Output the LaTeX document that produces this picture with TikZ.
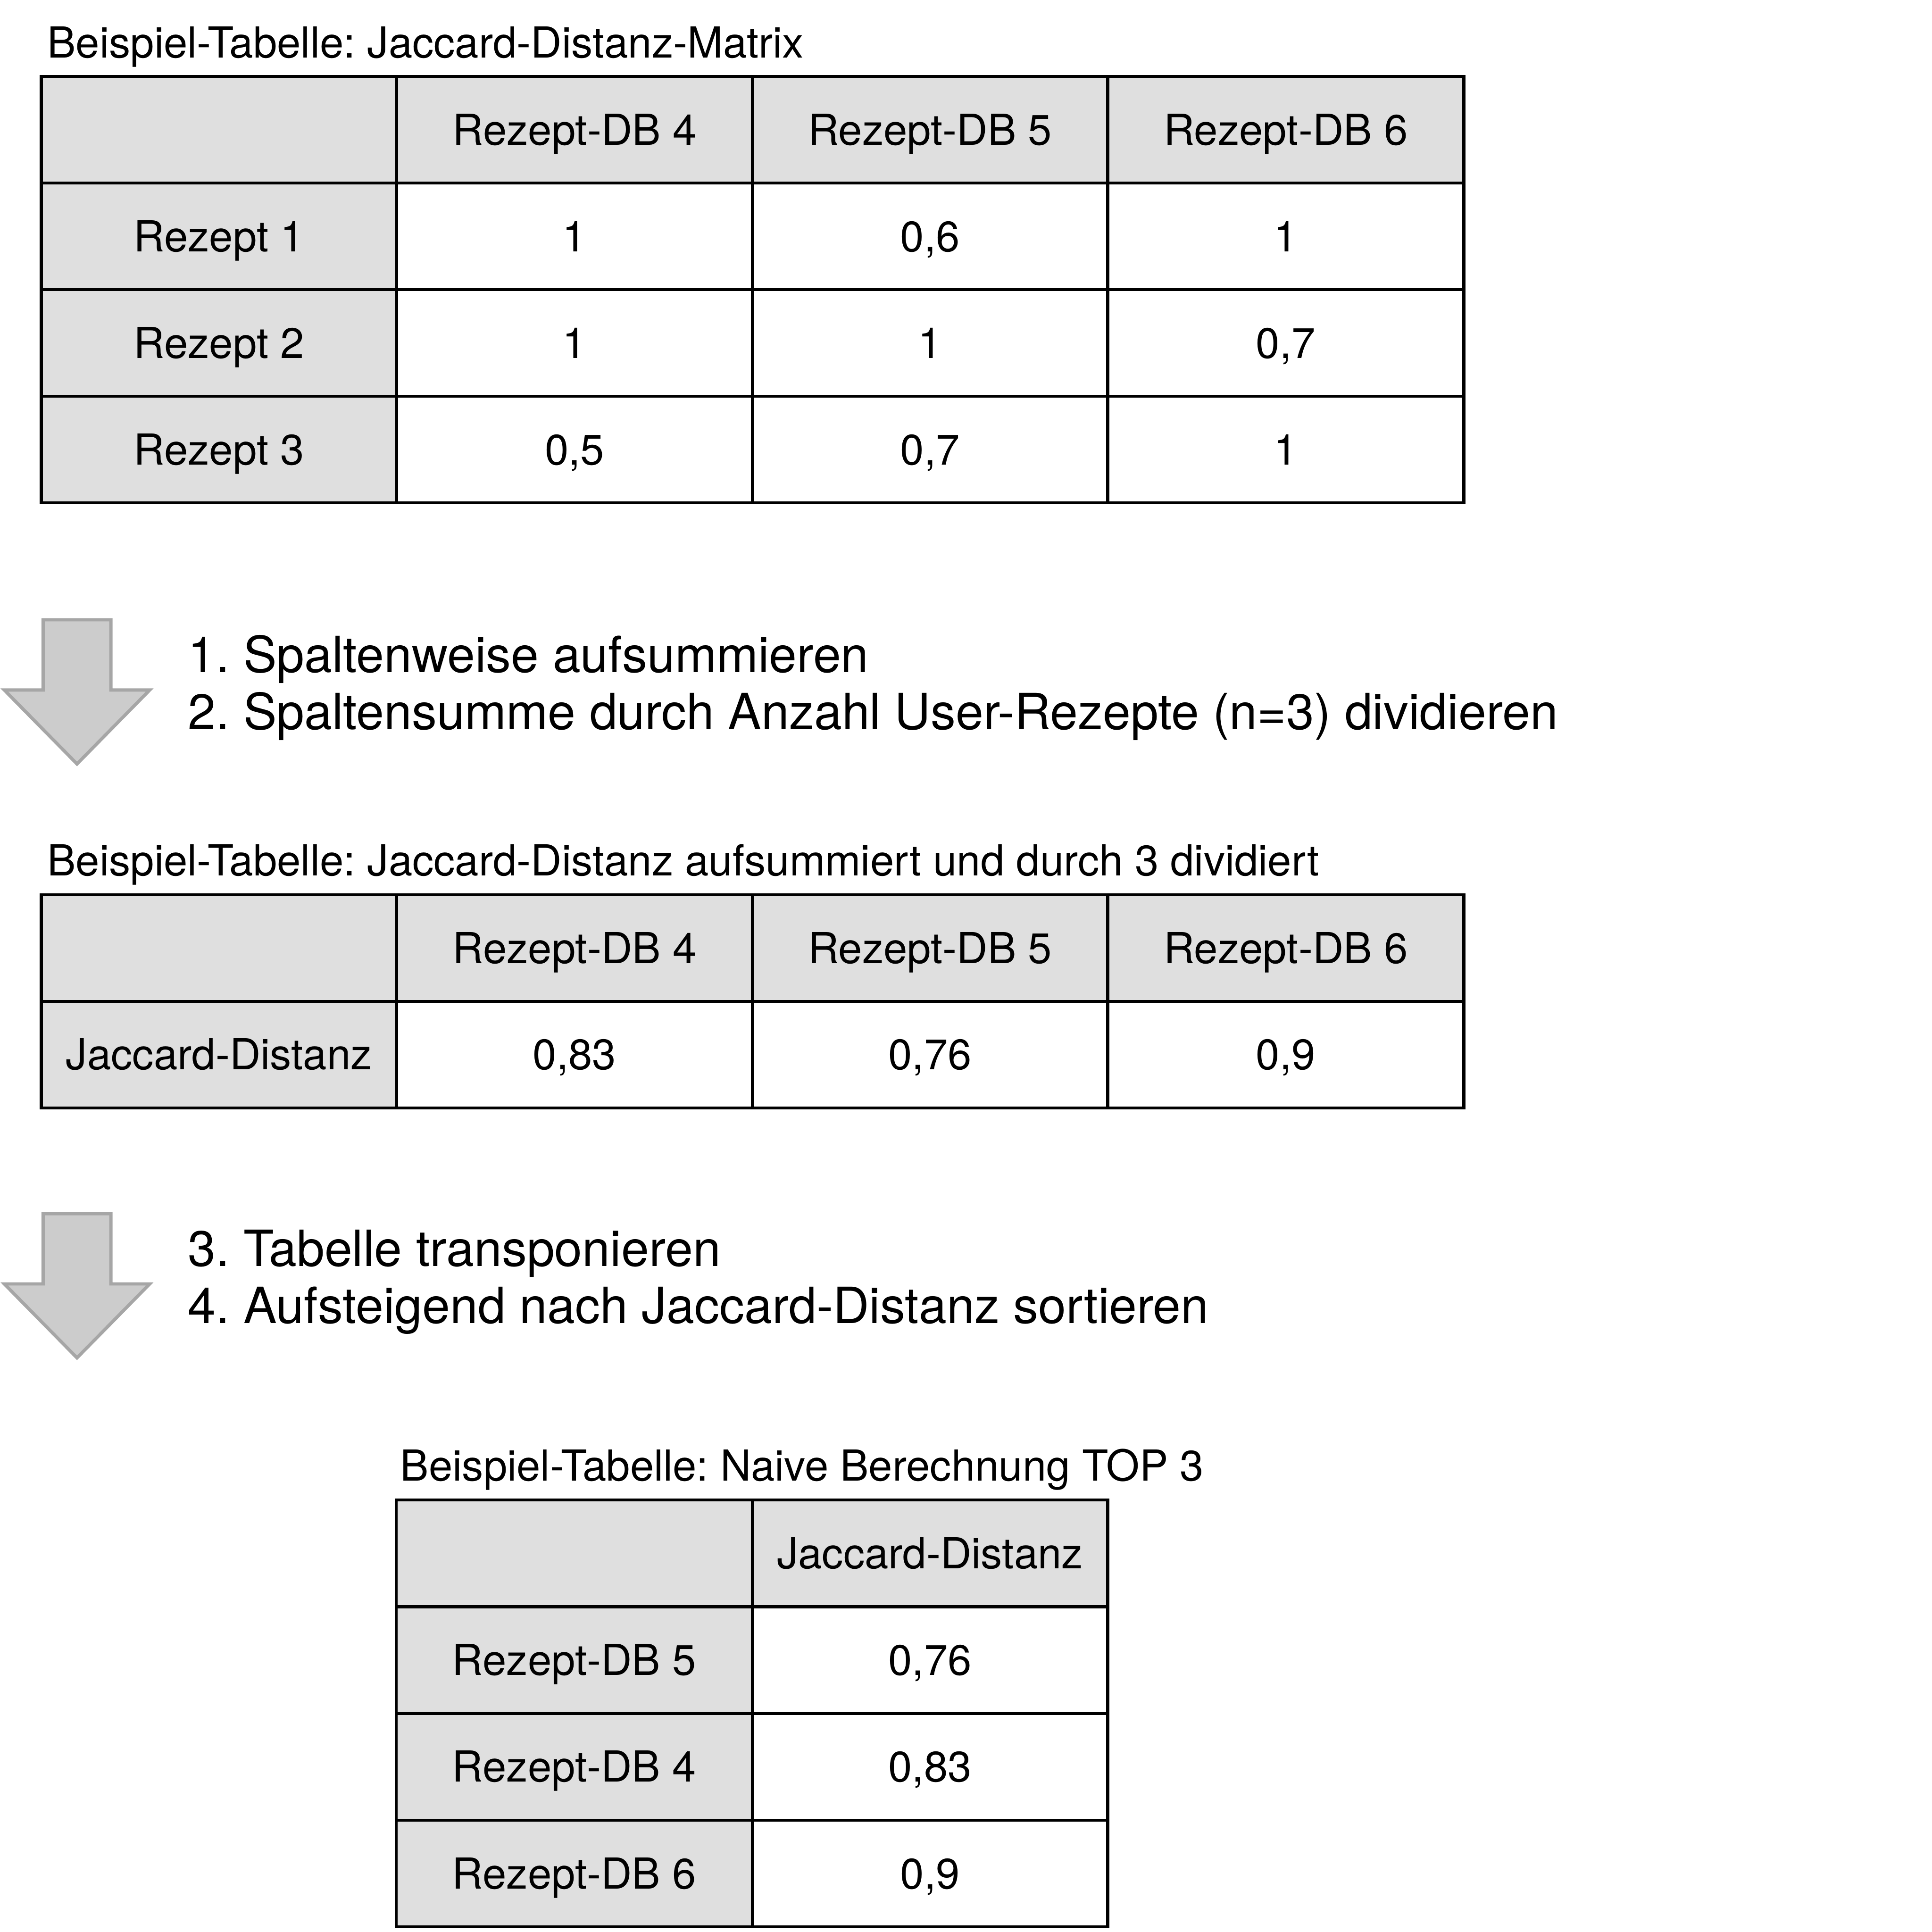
\documentclass[tikz,border=0pt]{standalone}
\usepackage{fontspec}
\setmainfont{TeX Gyre Heros}
\frenchspacing

\tikzset{every picture/.style={line width=0.75pt}}
\tikzset{
  celltext/.style={anchor=base, inner sep=0pt, font=\fontsize{26}{30}\selectfont},
  titletext/.style={anchor=base west, inner sep=0pt, font=\fontsize{26}{30}\selectfont},
  steptext/.style={anchor=base west, inner sep=0pt, font=\fontsize{30.4}{35}\selectfont},
  gridline/.style={line width=1.8},
  cellfill/.style={fill={rgb, 255:red, 223; green, 223; blue, 223 }},
  downarrow/.style={draw={rgb, 255:red, 166; green, 166; blue, 166 }, fill={rgb, 255:red, 204; green, 204; blue, 204 }, line width=2},
}

\begin{document}
\begin{tikzpicture}[x=0.75pt,y=0.75pt,yscale=-1,xscale=1]
\useasboundingbox (0,0) rectangle (1568,1568);

%Shape: Rectangle [header row, table 1]
\fill [cellfill] (33.5,62.1) rectangle (1188,148.6) ;
%Shape: Rectangle [first column, table 1]
\fill [cellfill] (33.5,148.6) rectangle (322,408.1) ;
%Shape: Table grid [table 1]
\draw [gridline] (33.5,62.1) -- (1188,62.1) -- (1188,408.1) -- (33.5,408.1) -- cycle ;
\draw [gridline] (33.5,148.6) -- (1188,148.6) ;
\draw [gridline] (33.5,235.1) -- (1188,235.1) ;
\draw [gridline] (33.5,321.6) -- (1188,321.6) ;
\draw [gridline] (322,62.1) -- (322,408.1) ;
\draw [gridline] (610.5,62.1) -- (610.5,408.1) ;
\draw [gridline] (899,62.1) -- (899,408.1) ;

%Shape: Rectangle [header row, table 2]
\fill [cellfill] (33.5,726.3) rectangle (1188,812.7) ;
%Shape: Rectangle [first column, table 2]
\fill [cellfill] (33.5,812.7) rectangle (322,899.1) ;
%Shape: Table grid [table 2]
\draw [gridline] (33.5,726.3) -- (1188,726.3) -- (1188,899.1) -- (33.5,899.1) -- cycle ;
\draw [gridline] (33.5,812.7) -- (1188,812.7) ;
\draw [gridline] (322,726.3) -- (322,899.1) ;
\draw [gridline] (610.5,726.3) -- (610.5,899.1) ;
\draw [gridline] (899,726.3) -- (899,899.1) ;

%Shape: Rectangle [header row, table 3]
\fill [cellfill] (321.5,1217.4) rectangle (899,1304) ;
%Shape: Rectangle [first column, table 3]
\fill [cellfill] (321.5,1304) rectangle (610.5,1563.8) ;
%Shape: Table grid [table 3]
\draw [gridline] (321.5,1217.4) -- (899,1217.4) -- (899,1563.8) -- (321.5,1563.8) -- cycle ;
\draw [gridline] (321.5,1304) -- (899,1304) ;
\draw [gridline] (321.5,1390.6) -- (899,1390.6) ;
\draw [gridline] (321.5,1477.2) -- (899,1477.2) ;
\draw [gridline] (610.5,1217.4) -- (610.5,1563.8) ;

%Shape: Down Arrow [step 1-2]
\draw [downarrow] (35,503) -- (90,503) -- (90,560) -- (121.5,560) -- (62.5,620) -- (3.5,560) -- (35,560) -- cycle ;
%Shape: Down Arrow [step 3-4]
\draw [downarrow] (35,985) -- (90,985) -- (90,1042) -- (121.5,1042) -- (62.5,1102) -- (3.5,1042) -- (35,1042) -- cycle ;

% Text Node
\node [titletext] (title1) at (38,46.7) {Beispiel-Tabelle: Jaccard-Distanz-Matrix};
% Text Node
\node [celltext] (m-h4) at (466.25,117.7) {Rezept-DB 4};
\node [celltext] (m-h5) at (754.75,117.7) {Rezept-DB 5};
\node [celltext] (m-h6) at (1043.5,117.7) {Rezept-DB 6};
% Text Node
\node [celltext] (m-r1) at (177.75,204.2) {Rezept 1};
\node [celltext] (m-r1c4) at (466.25,204.2) {1};
\node [celltext] (m-r1c5) at (754.75,204.2) {0,6};
\node [celltext] (m-r1c6) at (1043.5,204.2) {1};
% Text Node
\node [celltext] (m-r2) at (177.75,290.7) {Rezept 2};
\node [celltext] (m-r2c4) at (466.25,290.7) {1};
\node [celltext] (m-r2c5) at (754.75,290.7) {1};
\node [celltext] (m-r2c6) at (1043.5,290.7) {0,7};
% Text Node
\node [celltext] (m-r3) at (177.75,377.2) {Rezept 3};
\node [celltext] (m-r3c4) at (466.25,377.2) {0,5};
\node [celltext] (m-r3c5) at (754.75,377.2) {0,7};
\node [celltext] (m-r3c6) at (1043.5,377.2) {1};

% Text Node
\node [steptext] (step1) at (152,545.8) {1. Spaltenweise aufsummieren};
\node [steptext] (step2) at (152,592) {2. Spaltensumme durch Anzahl User-Rezepte (n=3) dividieren};

% Text Node
\node [titletext] (title2) at (38,710.6) {Beispiel-Tabelle: Jaccard-Distanz aufsummiert und durch 3 dividiert};
% Text Node
\node [celltext] (s-h4) at (466.25,781.8) {Rezept-DB 4};
\node [celltext] (s-h5) at (754.75,781.8) {Rezept-DB 5};
\node [celltext] (s-h6) at (1043.5,781.8) {Rezept-DB 6};
% Text Node
\node [celltext] (s-r) at (177.75,868.2) {Jaccard-Distanz};
\node [celltext] (s-c4) at (466.25,868.2) {0,83};
\node [celltext] (s-c5) at (754.75,868.2) {0,76};
\node [celltext] (s-c6) at (1043.5,868.2) {0,9};

% Text Node
\node [steptext] (step3) at (152,1027.8) {3. Tabelle transponieren};
\node [steptext] (step4) at (152,1074) {4. Aufsteigend nach Jaccard-Distanz sortieren};

% Text Node
\node [titletext] (title3) at (324.5,1201.8) {Beispiel-Tabelle: Naive Berechnung TOP 3};
% Text Node
\node [celltext] (t-h) at (754.75,1273) {Jaccard-Distanz};
\node [celltext] (t-r5) at (466,1359.6) {Rezept-DB 5};
\node [celltext] (t-v5) at (754.75,1359.6) {0,76};
\node [celltext] (t-r4) at (466,1446.2) {Rezept-DB 4};
\node [celltext] (t-v4) at (754.75,1446.2) {0,83};
\node [celltext] (t-r6) at (466,1532.8) {Rezept-DB 6};
\node [celltext] (t-v6) at (754.75,1532.8) {0,9};

\end{tikzpicture}
\end{document}
